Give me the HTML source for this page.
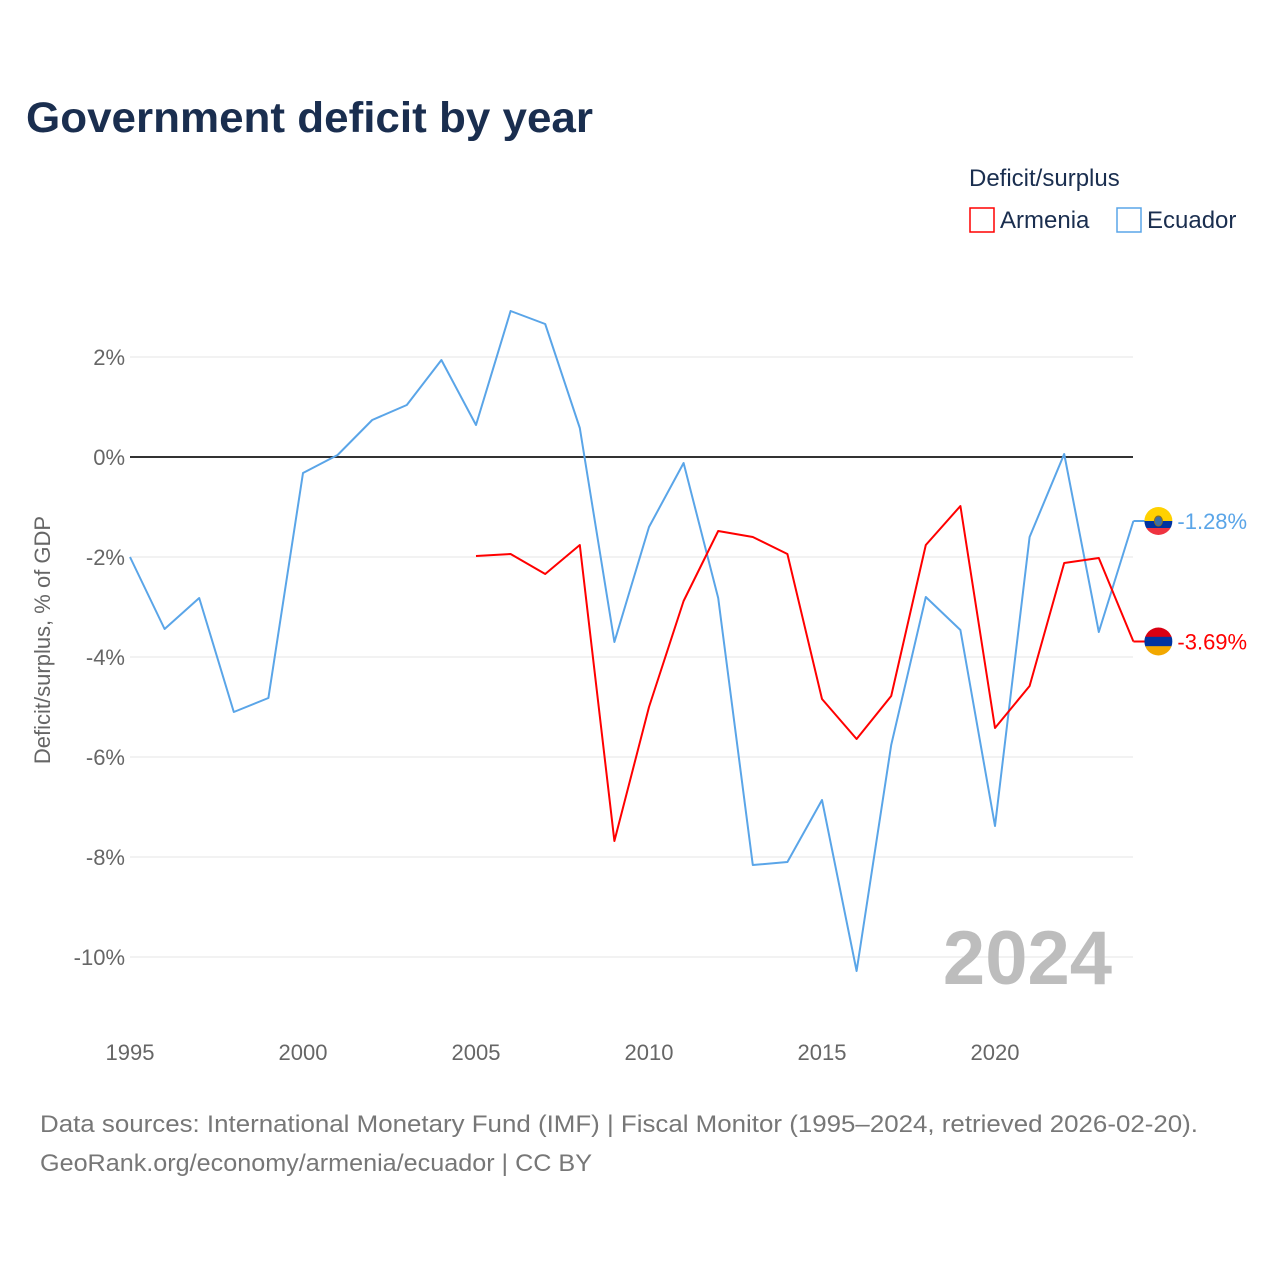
<!DOCTYPE html>
<html><head><meta charset="utf-8"><style>
body{margin:0;background:#fff;font-family:"Liberation Sans",sans-serif}
</style></head><body>
<svg id="chart" width="1280" height="1280" xmlns="http://www.w3.org/2000/svg" font-family="Liberation Sans, sans-serif">
<text x="26" y="132" font-size="43" font-weight="bold" fill="#1a2e4f" textLength="567" lengthAdjust="spacingAndGlyphs">Government deficit by year</text>
<text x="969" y="186" font-size="24" fill="#1a2e4f">Deficit/surplus</text>
<rect x="970" y="208" width="24" height="24" fill="none" stroke="#ff0000" stroke-width="1.5"/>
<text x="1000" y="228" font-size="24" fill="#1a2e4f">Armenia</text>
<rect x="1117" y="208" width="24" height="24" fill="none" stroke="#5aa5e8" stroke-width="1.5"/>
<text x="1147" y="228" font-size="24" fill="#1a2e4f">Ecuador</text>
<text transform="translate(50,640) rotate(-90)" text-anchor="middle" font-size="22" fill="#666">Deficit/surplus, % of GDP</text>
<g id="grid"></g>
<text x="1112" y="984" text-anchor="end" font-size="76" font-weight="bold" fill="#bdbdbd">2024</text>
<g id="series"></g>
<text x="40" y="1132" font-size="24" fill="#777" textLength="1158" lengthAdjust="spacingAndGlyphs">Data sources: International Monetary Fund (IMF) | Fiscal Monitor (1995–2024, retrieved 2026-02-20).</text>
<text x="40" y="1171" font-size="24" fill="#777" textLength="552" lengthAdjust="spacingAndGlyphs">GeoRank.org/economy/armenia/ecuador | CC BY</text>
</svg>
<script>
const years=[1995,1996,1997,1998,1999,2000,2001,2002,2003,2004,2005,2006,2007,2008,2009,2010,2011,2012,2013,2014,2015,2016,2017,2018,2019,2020,2021,2022,2023,2024];
const ecuador=[-2.0,-3.44,-2.82,-5.1,-4.82,-0.32,0.04,0.74,1.04,1.94,0.64,2.92,2.66,0.58,-3.7,-1.4,-0.12,-2.82,-8.16,-8.1,-6.86,-10.28,-5.76,-2.8,-3.46,-7.38,-1.6,0.06,-3.5,-1.28];
const armenia=[null,null,null,null,null,null,null,null,null,null,-1.98,-1.94,-2.34,-1.76,-7.68,-5.0,-2.88,-1.48,-1.6,-1.94,-4.84,-5.64,-4.78,-1.76,-0.98,-5.42,-4.58,-2.12,-2.02,-3.69];
const yTicks=[2,0,-2,-4,-6,-8,-10];
const xTicks=[1995,2000,2005,2010,2015,2020];
const NS="http://www.w3.org/2000/svg";
const xs=y=>130+(y-1995)*34.6;
const ys=v=>457-v*50;
function mk(t,a,p){const e=document.createElementNS(NS,t);for(const k in a)e.setAttribute(k,a[k]);p.appendChild(e);return e;}
const grid=document.getElementById('grid'),ser=document.getElementById('series');
yTicks.forEach(v=>{
 const l=mk('line',{x1:130,x2:1133,y1:ys(v),y2:ys(v),stroke:v===0?'#333':'#e6e6e6','stroke-width':v===0?2:1},grid);
 
 
 const t=mk('text',{x:125,y:ys(v)+8,'text-anchor':'end','font-size':22,fill:'#666'},grid);
 
 
 t.textContent=v+'%';
});
xTicks.forEach(y=>{
 const t=mk('text',{x:xs(y),y:1060,'text-anchor':'middle','font-size':22,fill:'#666'},grid);
 
 
 t.textContent=y;
});
function line(vals,color,name){
 const pts=[];vals.forEach((v,i)=>{if(v!==null)pts.push(xs(years[i]).toFixed(1)+','+ys(v).toFixed(1));});
 const p=mk('polyline',{points:pts.join(' '),fill:'none',stroke:color,'stroke-width':2,'stroke-linejoin':'round'},ser);
 
 
 const last=vals[vals.length-1],lx=xs(years[years.length-1]),ly=ys(last);
 const s=mk('line',{x1:lx,x2:lx+12,y1:ly,y2:ly,stroke:color,'stroke-width':2},ser);
 
 
 const g=mk('g',{},ser);
 
 
 const cx=lx+25,r=14;
 const cols=['#d90012','#0033a0','#f2a800'];
 const cp=mk('clipPath',{id:'c'+name},g);mk('circle',{cx:cx,cy:ly,r:r},cp);
 if(name==='ecuador'){mk('rect',{x:cx-r,y:ly-r,width:2*r,height:r,fill:'#ffd100','clip-path':'url(#c'+name+')'},g);mk('rect',{x:cx-r,y:ly,width:2*r,height:r/2,fill:'#0033a0','clip-path':'url(#c'+name+')'},g);mk('rect',{x:cx-r,y:ly+r/2,width:2*r,height:r/2,fill:'#ef3340','clip-path':'url(#c'+name+')'},g);mk('ellipse',{cx:cx,cy:ly,rx:4,ry:5,fill:'#3a6ea5',stroke:'#8a6d1e','stroke-width':1},g);}
 else{cols.forEach((c,i)=>mk('rect',{x:cx-r,y:ly-r+i*2*r/3,width:2*r,height:2*r/3+0.5,fill:c,'clip-path':'url(#c'+name+')'},g));}
 const t=mk('text',{x:cx+19,y:ly+8,'font-size':22,fill:color},ser);
 
 
 t.textContent=last.toFixed(2)+'%';
}
line(ecuador,'#5aa5e8','ecuador');
line(armenia,'#ff0000','armenia');
</script>
</body></html>
